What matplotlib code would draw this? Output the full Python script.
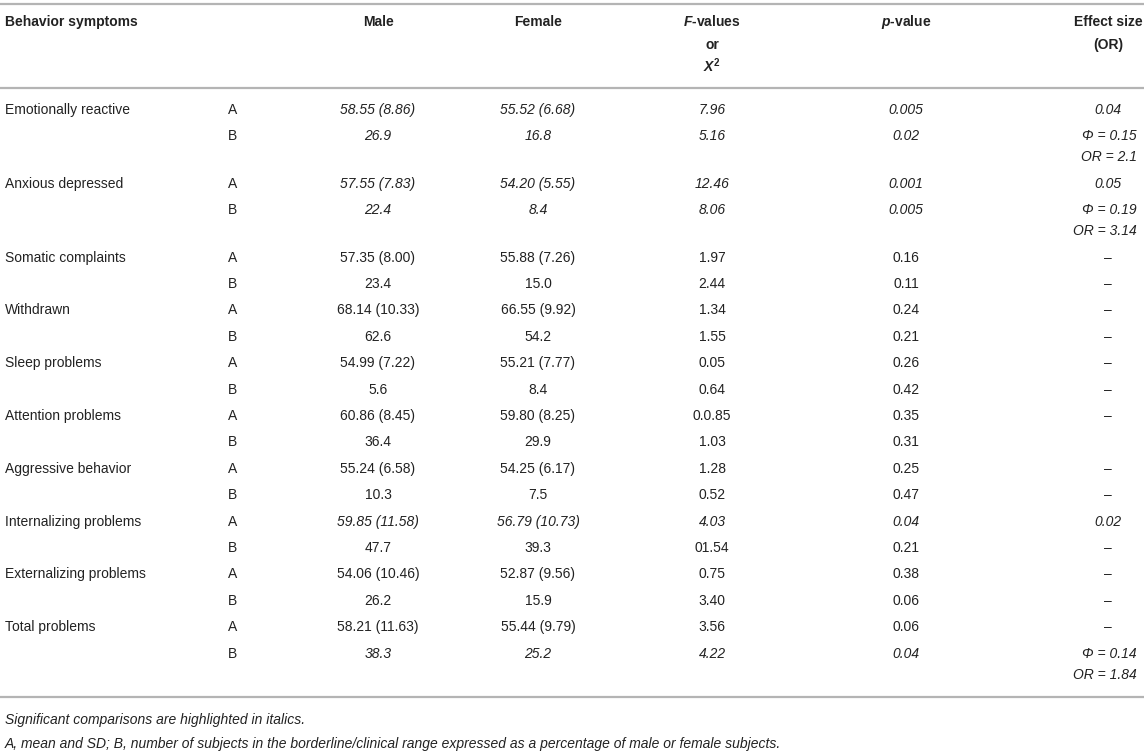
import matplotlib.pyplot as plt

plt.rcParams['font.family'] = ['Liberation Sans', 'DejaVu Sans']
plt.rcParams['mathtext.fontset'] = 'custom'
plt.rcParams['mathtext.bfit'] = 'Liberation Sans:bold:italic'
plt.rcParams['mathtext.bf'] = 'Liberation Sans:bold'
plt.rcParams['mathtext.it'] = 'Liberation Sans:italic'
plt.rcParams['mathtext.rm'] = 'Liberation Sans'

# table data
symptoms = ["Emotionally reactive", "Anxious depressed", "Somatic complaints", "Withdrawn",
            "Sleep problems", "Attention problems", "Aggressive behavior",
            "Internalizing problems", "Externalizing problems", "Total problems"]

male_a   = ["58.55 (8.86)", "57.55 (7.83)", "57.35 (8.00)", "68.14 (10.33)", "54.99 (7.22)",
            "60.86 (8.45)", "55.24 (6.58)", "59.85 (11.58)", "54.06 (10.46)", "58.21 (11.63)"]
female_a = ["55.52 (6.68)", "54.20 (5.55)", "55.88 (7.26)", "66.55 (9.92)", "55.21 (7.77)",
            "59.80 (8.25)", "54.25 (6.17)", "56.79 (10.73)", "52.87 (9.56)", "55.44 (9.79)"]
f_a      = ["7.96", "12.46", "1.97", "1.34", "0.05", "0.0.85", "1.28", "4.03", "0.75", "3.56"]
p_a      = ["0.005", "0.001", "0.16", "0.24", "0.26", "0.35", "0.25", "0.04", "0.38", "0.06"]
eff_a    = ["0.04", "0.05", "–", "–", "–", "–", "–", "0.02", "–", "–"]

male_b   = ["26.9", "22.4", "23.4", "62.6", "5.6", "36.4", "10.3", "47.7", "26.2", "38.3"]
female_b = ["16.8", "8.4", "15.0", "54.2", "8.4", "29.9", "7.5", "39.3", "15.9", "25.2"]
f_b      = ["5.16", "8.06", "2.44", "1.55", "0.64", "1.03", "0.52", "01.54", "3.40", "4.22"]
p_b      = ["0.02", "0.005", "0.11", "0.21", "0.42", "0.31", "0.47", "0.21", "0.06", "0.04"]
eff_b    = [["Φ = 0.15", "OR = 2.1"], ["Φ = 0.19", "OR = 3.14"], ["–"], ["–"], ["–"], [""],
            ["–"], ["–"], ["–"], ["Φ = 0.14", "OR = 1.84"]]

# rows printed in italics (significant comparisons)
italic_a = [True, True, False, False, False, False, False, True, False, False]
italic_b = [True, True, False, False, False, False, False, False, False, True]

notes = ["Significant comparisons are highlighted in italics.",
         "A, mean and SD; B, number of subjects in the borderline/clinical range expressed as a percentage of male or female subjects."]

# ---------------- layout ----------------
fig = plt.figure(figsize=(11.44, 7.51), dpi=100)
ax = fig.add_axes([0, 0, 1, 1])
ax.set_xlim(0, 1144)
ax.set_ylim(751, 0)
ax.axis("off")

txt = "#222222"
fs = 10
line_col = "#b4b4b4"

x_name, x_ab = 5, 228
x_male, x_fem, x_f, x_p, x_eff, x_eff_r = 378, 538, 712, 906, 1108, 1137

# header
ax.text(x_name, 22, "Behavior symptoms", fontsize=fs, fontweight="bold", color=txt, va="center")
ax.text(x_male, 22, "Male", fontsize=fs, fontweight="bold", color=txt, va="center", ha="center")
ax.text(x_fem, 22, "Female", fontsize=fs, fontweight="bold", color=txt, va="center", ha="center")
ax.text(x_f, 22, r"$\mathbfit{F}$-values", fontsize=fs, fontweight="bold", color=txt, va="center", ha="center")
ax.text(x_f, 45, "or", fontsize=fs, fontweight="bold", color=txt, va="center", ha="center")
ax.text(x_f, 66, r"$\mathbfit{X}^{\mathbf{2}}$", fontsize=fs, color=txt, va="center", ha="center")
ax.text(x_p, 22, r"$\mathbfit{p}$-value", fontsize=fs, fontweight="bold", color=txt, va="center", ha="center")
ax.text(x_eff, 22, "Effect size", fontsize=fs, fontweight="bold", color=txt, va="center", ha="center")
ax.text(x_eff, 45, "(OR)", fontsize=fs, fontweight="bold", color=txt, va="center", ha="center")

# horizontal rules
for yl in [4, 88, 697]:
    ax.plot([0, 1144], [yl, yl], color=line_col, lw=1.6, solid_capstyle="butt")

# body
step = 26.4
y = 110
for i in range(len(symptoms)):
    st_a = "italic" if italic_a[i] else "normal"
    st_b = "italic" if italic_b[i] else "normal"
    ya, yb = y, y + step
    ax.text(x_name, ya, symptoms[i], fontsize=fs, color=txt, va="center")
    ax.text(x_ab, ya, "A", fontsize=fs, color=txt, va="center")
    ax.text(x_ab, yb, "B", fontsize=fs, color=txt, va="center")
    for xc, va_, vb_ in [(x_male, male_a[i], male_b[i]), (x_fem, female_a[i], female_b[i]),
                         (x_f, f_a[i], f_b[i]), (x_p, p_a[i], p_b[i])]:
        ax.text(xc, ya, va_, fontsize=fs, color=txt, va="center", ha="center", style=st_a)
        ax.text(xc, yb, vb_, fontsize=fs, color=txt, va="center", ha="center", style=st_b)
    ax.text(x_eff, ya, eff_a[i], fontsize=fs, color=txt, va="center", ha="center", style=st_a)
    eb = eff_b[i]
    if len(eb) == 2:
        ax.text(x_eff_r, yb, eb[0], fontsize=fs, color=txt, va="center", ha="right", style=st_b)
        ax.text(x_eff_r, yb + 21, eb[1], fontsize=fs, color=txt, va="center", ha="right", style=st_b)
        y += 2 * step + 21
    else:
        ax.text(x_eff, yb, eb[0], fontsize=fs, color=txt, va="center", ha="center", style=st_b)
        y += 2 * step

# footnotes
ax.text(x_name, 720, notes[0], fontsize=10, color=txt, va="center", style="italic")
ax.text(x_name, 744, notes[1], fontsize=10, color=txt, va="center", style="italic")

plt.savefig("out.png", dpi=100)
